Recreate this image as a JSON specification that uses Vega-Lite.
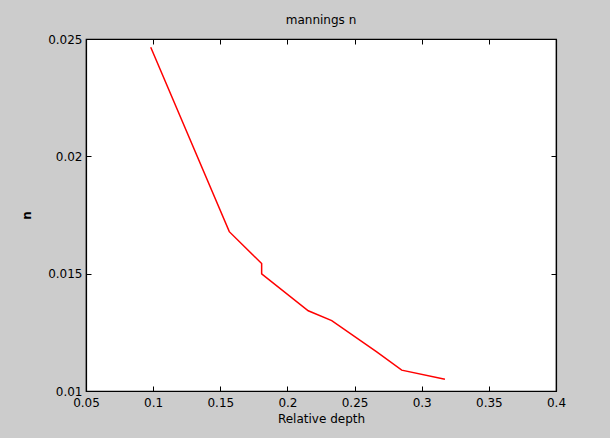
{
  "$schema": "https://vega.github.io/schema/vega-lite/v6.json",
  "width": 470,
  "height": 352,
  "autosize": {"type": "none"},
  "padding": {"left": 86, "top": 39, "right": 54, "bottom": 47},
  "background": "#cccccc",
  "title": {"text": "mannings n", "fontSize": 12, "font": "DejaVu Sans", "fontWeight": "normal", "color": "#000000", "offset": 6},
  "config": {
    "view": {"fill": "white", "stroke": "black", "strokeWidth": 1.2},
    "font": "DejaVu Sans",
    "axis": {
      "grid": false,
      "tickSize": -5,
      "tickColor": "black",
      "domainColor": "black",
      "domainWidth": 1.2,
      "labelColor": "black",
      "labelFont": "DejaVu Sans",
      "labelFontSize": 12,
      "titleFont": "DejaVu Sans",
      "titleFontSize": 12,
      "titleFontWeight": "normal",
      "titleColor": "black",
      "labelFlush": false,
      "labelOverlap": false,
      "labelBound": false,
      "format": "~g"
    }
  },
  "data": {
    "values": [
      {"i": 1, "depth": 0.0982, "n": 0.02465},
      {"i": 2, "depth": 0.1567, "n": 0.01679},
      {"i": 3, "depth": 0.1808, "n": 0.01543},
      {"i": 4, "depth": 0.1808, "n": 0.01499},
      {"i": 5, "depth": 0.2155, "n": 0.01342},
      {"i": 6, "depth": 0.2330, "n": 0.01300},
      {"i": 7, "depth": 0.2665, "n": 0.01167},
      {"i": 8, "depth": 0.2851, "n": 0.01089},
      {"i": 9, "depth": 0.3173, "n": 0.01050}
    ]
  },
  "layer": [
    {
      "mark": {"type": "line", "color": "#ff0000", "strokeWidth": 1.5},
      "encoding": {
        "order": {"field": "i", "type": "quantitative"},
        "x": {
          "field": "depth", "type": "quantitative",
          "scale": {"domain": [0.05, 0.4], "nice": false, "zero": false},
          "axis": {"orient": "bottom", "title": "Relative depth", "values": [0.05, 0.1, 0.15, 0.2, 0.25, 0.3, 0.35, 0.4], "labelPadding": 11, "titlePadding": 5}
        },
        "y": {
          "field": "n", "type": "quantitative",
          "scale": {"domain": [0.01, 0.025], "nice": false, "zero": false},
          "axis": {"orient": "left", "title": "n", "titleFontWeight": "bold", "values": [0.01, 0.015, 0.02, 0.025], "labelPadding": 9, "titlePadding": 14}
        }
      }
    },
    {
      "mark": {"type": "line", "opacity": 0},
      "encoding": {
        "order": {"field": "i", "type": "quantitative"},
        "x": {
          "field": "depth", "type": "quantitative",
          "axis": {"orient": "top", "labels": false, "title": null, "values": [0.05, 0.1, 0.15, 0.2, 0.25, 0.3, 0.35, 0.4]}
        },
        "y": {
          "field": "n", "type": "quantitative",
          "axis": {"orient": "right", "labels": false, "title": null, "values": [0.01, 0.015, 0.02, 0.025]}
        }
      }
    }
  ]
}
